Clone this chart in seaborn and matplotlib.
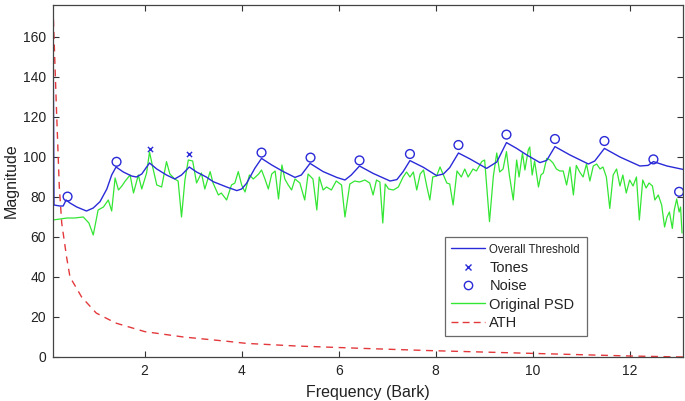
import numpy as np
import pandas as pd
import matplotlib
matplotlib.use("Agg")
import matplotlib.pyplot as plt
import seaborn as sns
from matplotlib.lines import Line2D

# Original PSD (green)
psd_bark = [0.11, 0.25, 0.4, 0.55, 0.735, 0.85, 0.94, 1.04, 1.15, 1.25, 1.32, 1.39, 1.46, 1.53, 1.6,
            1.7, 1.77, 1.87, 1.94, 2.04, 2.1, 2.17, 2.25, 2.35, 2.45, 2.52, 2.62, 2.69, 2.76, 2.83,
            2.9, 2.99, 3.07, 3.17, 3.24, 3.35, 3.41, 3.52, 3.58, 3.69, 3.79, 3.86, 3.93, 4.0, 4.07,
            4.16, 4.24, 4.35, 4.41, 4.48, 4.55, 4.62, 4.69, 4.76, 4.83, 4.89, 4.96, 5.03, 5.1, 5.2,
            5.3, 5.37, 5.47, 5.55, 5.6, 5.68, 5.75, 5.85, 5.95, 6.06, 6.13, 6.23, 6.33, 6.43, 6.54,
            6.64, 6.71, 6.78, 6.85, 6.91, 6.96, 7.03, 7.13, 7.23, 7.33, 7.4, 7.47, 7.54, 7.61, 7.68,
            7.75, 7.82, 7.88, 7.94, 8.02, 8.09, 8.16, 8.23, 8.29, 8.36, 8.44, 8.53, 8.6, 8.67, 8.77,
            8.84, 8.95, 9.01, 9.11, 9.19, 9.26, 9.32, 9.39, 9.46, 9.52, 9.6, 9.67, 9.72, 9.79, 9.84,
            9.91, 9.94, 9.99, 10.04, 10.12, 10.17, 10.22, 10.29, 10.36, 10.42, 10.49, 10.56, 10.63,
            10.7, 10.77, 10.84, 10.9, 10.97, 11.04, 11.11, 11.18, 11.25, 11.32, 11.39, 11.45, 11.52,
            11.59, 11.66, 11.73, 11.8, 11.86, 11.93, 12.0, 12.07, 12.14, 12.2, 12.27, 12.34, 12.4,
            12.47, 12.52, 12.59, 12.66, 12.72, 12.77, 12.82, 12.88, 12.92, 12.97, 13.02, 13.05, 13.08]
psd_mag = [68.5, 69, 69.5, 69.5, 70, 67, 61, 73.5, 75, 78.5, 73, 89.5, 83.5, 85.5, 88,
           91, 82, 91, 84, 92, 102.5, 94.5, 86, 85, 97.7, 91.5, 89, 88, 70, 88.5,
           98.5, 98, 87, 92, 84, 92.7, 87, 81, 82, 78.5, 86, 87, 92.7, 86, 82.5,
           91, 89, 91.5, 93.5, 89, 84, 91.5, 93, 79, 96, 89, 86, 83.5, 89, 87,
           78.5, 91.5, 89, 73.5, 90, 83.5, 85, 83.5, 88, 86, 70, 86.5, 88, 87.5, 88.5,
           87, 81, 88.5, 87.5, 67, 86.5, 84, 83.5, 85, 90, 92.5, 90, 92.5, 83.5, 91.5,
           93.5, 85, 78.5, 90, 90.5, 95, 91, 87, 86.5, 76, 93, 90, 94, 90, 94,
           93, 97.7, 98.5, 67.7, 90.5, 102, 92.5, 94, 102.7, 91, 78.5, 98.5, 90, 102, 93.5,
           103.5, 105, 91, 98, 85, 91, 92, 99.3, 98.5, 97, 94, 93, 93,
           86, 95, 81, 95.8, 92.5, 90, 96.5, 88, 95.5, 96.5, 94, 95, 90,
           74.3, 91, 94, 85.5, 91, 82, 88.5, 85.5, 90, 68.5, 88.5, 84.5, 87,
           85.5, 78.5, 81, 76, 65, 70, 72.5, 64.3, 73.5, 79, 72.5, 75, 62]

# Overall threshold (blue)
thr_bark = [0.11, 0.13, 0.25, 0.32, 0.38, 0.46, 0.6, 0.8, 0.94, 1.08, 1.22, 1.32, 1.41, 1.56,
            1.73, 1.83, 1.94, 2.04, 2.1, 2.25, 2.45, 2.62, 2.76, 2.92, 3.07, 3.27, 3.41, 3.69,
            3.9, 4.0, 4.1, 4.27, 4.41, 4.62, 4.86, 5.1, 5.23, 5.41, 5.68, 5.96, 6.13, 6.26, 6.43,
            6.71, 7.06, 7.2, 7.33, 7.47, 7.75, 8.02, 8.16, 8.29, 8.47, 8.71, 9.05, 9.26, 9.46,
            9.67, 9.88, 10.15, 10.29, 10.46, 10.77, 11.15, 11.28, 11.48, 11.8, 12.21, 12.38,
            12.49, 12.77, 13.1]
thr_mag = [176, 76, 75.5, 75.5, 78.5, 77, 75, 73, 74.5, 77.7, 84, 91, 95, 92.5,
           90.5, 90, 91.5, 95, 97, 94, 91, 89, 91, 95, 92.5, 90, 87.7, 85,
           83.2, 84, 86.8, 94.3, 99.3, 96, 92.7, 89.8, 91, 96.8, 92.7, 89.8, 88.5, 91, 95.5,
           91.8, 88, 88.7, 92.7, 98.2, 94.8, 90.7, 91.5, 94.7, 102, 99, 94.3, 97.5, 107.2,
           104.3, 101, 97.2, 98.3, 105.2, 101, 96.5, 98, 104.3, 100, 95.5, 95.8,
           97.7, 95.5, 93.8]

# Absolute threshold of hearing (red dashed)
ath_bark = [0.11, 0.18, 0.24, 0.29, 0.39, 0.46, 0.7, 1.0, 1.4, 2.0, 2.8, 3.76, 4.1, 5.13,
            6.5, 7.88, 10.0, 12.0, 13.1]
ath_mag = [175, 125, 85, 67, 50, 40, 30, 22, 17, 12.7, 10, 7.7, 6.8, 5.5,
           4.3, 3.2, 1.8, 0.5, 0]

# maskers
tone_bark = [2.1, 2.91]
tone_mag = [103.8, 101.7]
noise_bark = [0.41, 1.42, 4.41, 5.42, 6.43, 7.47, 8.47, 9.46, 10.46, 11.48, 12.49, 13.02]
noise_mag = [80.2, 97.6, 102.2, 99.7, 98.3, 101.5, 106, 111.2, 109, 108, 98.8, 82.6]

blue = '#2a2ad8'
green = '#33e633'
red = '#e3393c'

sns.set_style('ticks')
plt.rcParams['font.family'] = ['Liberation Sans', 'DejaVu Sans']

fig = plt.figure(figsize=(6.85, 4.01), dpi=100)
ax = fig.add_axes([53 / 685, 44 / 401, 630 / 685, 352 / 401])

sns.lineplot(x=ath_bark, y=ath_mag, ax=ax, color=red, lw=1, linestyle=(0, (5, 4)), sort=False)
sns.lineplot(x=psd_bark, y=psd_mag, ax=ax, color=green, lw=0.9, sort=False)
sns.lineplot(x=thr_bark, y=thr_mag, ax=ax, color=blue, lw=1, sort=False)
sns.scatterplot(x=tone_bark, y=tone_mag, ax=ax, marker='x', color=blue, s=14, linewidth=1)
sns.scatterplot(x=noise_bark, y=noise_mag, ax=ax, marker='o', facecolor='none',
                edgecolor=blue, s=40, linewidth=1)

ax.set_xlim(0.11, 13.1)
ax.set_ylim(0, 176)
ax.set_xticks([2, 4, 6, 8, 10, 12])
ax.set_yticks(range(0, 161, 20))
ax.tick_params(direction='in', top=True, right=True, length=4, width=0.8,
               labelsize=10, colors='#333333', labelcolor='#222222', pad=5)
for s in ax.spines.values():
    s.set_visible(True)
    s.set_color('#444444')
    s.set_linewidth(0.9)

ax.set_xlabel('Frequency (Bark)', fontsize=11.5, color='#222222', labelpad=5)
ax.set_ylabel('Magnitude', fontsize=11.5, color='#222222', labelpad=3)

handles = [
    Line2D([], [], color=blue, lw=1),
    Line2D([], [], color=blue, marker='x', ls='none', ms=4, mew=1),
    Line2D([], [], color=blue, marker='o', ls='none', ms=6, mfc='none', mew=1),
    Line2D([], [], color=green, lw=1),
    Line2D([], [], color=red, lw=1, ls=(0, (5, 3))),
]
labels = ['Overall Threshold', 'Tones', 'Noise', 'Original PSD', 'ATH']
leg = ax.legend(handles, labels, loc='upper left', bbox_to_anchor=(0.622, 0.342),
                borderaxespad=0, fontsize=10.5, frameon=True, fancybox=False,
                handlelength=2.3, handletextpad=0.3, labelspacing=0.3,
                borderpad=0.45)
leg.get_frame().set_edgecolor('#444444')
leg.get_frame().set_linewidth(0.9)
leg.get_texts()[0].set_fontsize(8.3)
for t in leg.get_texts():
    t.set_color('#222222')

fig.savefig('out.png', dpi=100)
